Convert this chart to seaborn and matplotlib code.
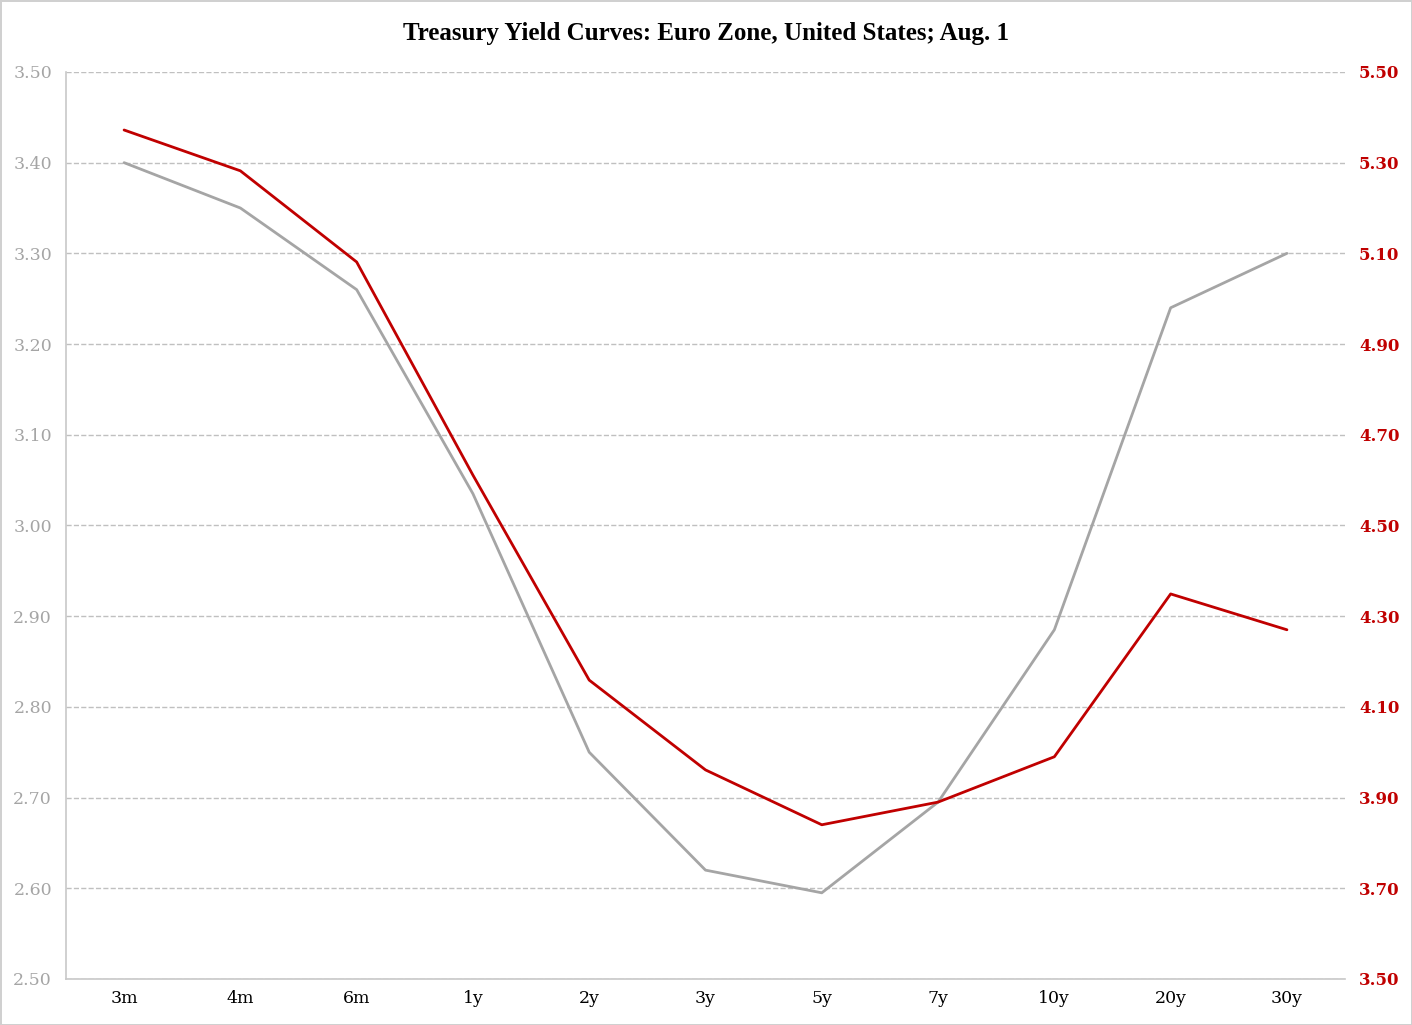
import pandas as pd
import matplotlib.pyplot as plt
import seaborn as sns

maturities = ['3m', '4m', '6m', '1y', '2y', '3y', '5y', '7y', '10y', '20y', '30y']
euro_zone = [3.40, 3.35, 3.26, 3.035, 2.75, 2.62, 2.595, 2.695, 2.885, 3.24, 3.30]
united_states = [5.372, 5.282, 5.081, 4.611, 4.159, 3.961, 3.840, 3.890, 3.990, 4.349, 4.270]

left_ticks = [2.50, 2.60, 2.70, 2.80, 2.90, 3.00, 3.10, 3.20, 3.30, 3.40, 3.50]
right_ticks = [3.50, 3.70, 3.90, 4.10, 4.30, 4.50, 4.70, 4.90, 5.10, 5.30, 5.50]

GRAY = '#a5a5a5'
RED = '#c00000'

df = pd.DataFrame({'Maturity': maturities, 'Euro Zone': euro_zone, 'United States': united_states})

sns.set_style('white')
plt.rcParams['font.family'] = ['DejaVu Serif']

fig = plt.figure(figsize=(14.12, 10.25), dpi=100, edgecolor='#d0d0d0', linewidth=2)
ax = fig.add_axes([0.0467, 0.0449, 0.9059, 0.8849])
ax2 = ax.twinx()

sns.lineplot(data=df, x='Maturity', y='Euro Zone', color=GRAY, linewidth=2, sort=False, ax=ax)
sns.lineplot(data=df, x='Maturity', y='United States', color=RED, linewidth=2, sort=False, ax=ax2)

ax.set_xlim(-0.5, len(maturities) - 0.5)
ax.set_ylim(2.50, 3.50)
ax2.set_ylim(3.50, 5.50)
ax.set_yticks(left_ticks)
ax2.set_yticks(right_ticks)
ax.set_yticklabels([f'{v:.2f}' for v in left_ticks], family='DejaVu Serif')
ax2.set_yticklabels([f'{v:.2f}' for v in right_ticks], family='DejaVu Serif', fontweight='bold')

ax.grid(axis='y', color='#c0c0c0', linestyle='--', linewidth=1)
ax.set_axisbelow(True)

ax.set_xlabel('')
ax.set_ylabel('')
ax2.set_ylabel('')

ax.tick_params(axis='y', length=0, pad=10, labelsize=12.5, labelcolor=GRAY)
ax.tick_params(axis='x', length=0, pad=8, labelsize=12.5, labelcolor='black')
ax2.tick_params(axis='y', length=0, pad=10, labelsize=12, labelcolor=RED)

for s in ['top', 'right']:
    ax.spines[s].set_visible(False)
for s in ['left', 'bottom']:
    ax.spines[s].set_color('#c8c8c8')
    ax.spines[s].set_linewidth(1.2)
for s in ax2.spines.values():
    s.set_visible(False)

fig.text(0.5, 0.967, 'Treasury Yield Curves: Euro Zone, United States; Aug. 1',
         ha='center', va='center', fontsize=18, color='black',
         family='Liberation Serif', fontweight='bold')

fig.savefig('out.png', dpi=100, edgecolor=fig.get_edgecolor())
